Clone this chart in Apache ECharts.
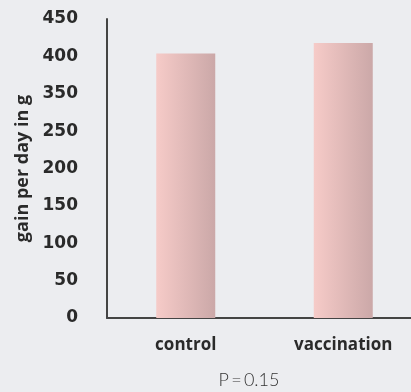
<!DOCTYPE html>
<html>
<head>
<meta charset="utf-8">
<script src="https://cdn.jsdelivr.net/npm/echarts@6/dist/echarts.min.js"></script>
<style>
  html, body { margin: 0; padding: 0; background: #ecedf0; }
  #chart { width: 411px; height: 392px; }
</style>
</head>
<body>
<div id="chart"></div>
<script>
// categories and values (gain per day, read against the printed tick labels)
var groups = ["control", "vaccination"];
var gainPerDay = [404, 418];
// the printed axis skips "300": nine evenly spaced labels
var tickLabels = ["0", "50", "100", "150", "200", "250", "350", "400", "450"];
var pValue = "P\u2009=\u20090.15";

// position on the axis: every label is one step of 50, so values above 250 sit one step lower
function toAxis(v) {
  return v > 250 ? v - 50 : v;
}

var myChart = echarts.init(document.getElementById("chart"));

var option = {
  backgroundColor: "#ecedf0",
  animation: false,
  grid: {
    left: 107,
    right: -11,
    top: 19,
    bottom: 74,
    outerBoundsMode: "none"
  },
  title: {
    text: pValue,
    left: 244,
    textAlign: "center",
    top: 366,
    textStyle: {
      fontFamily: "Lato",
      fontWeight: 300,
      fontSize: 18,
      color: "#333"
    }
  },
  xAxis: {
    type: "category",
    data: groups,
    axisLine: { lineStyle: { color: "#444", width: 2 } },
    axisTick: { show: false },
    axisLabel: {
      margin: 19,
      fontFamily: "Open Sans",
      fontWeight: "bold",
      fontSize: 17,
      color: "#2a2a2a"
    }
  },
  yAxis: {
    type: "value",
    min: 0,
    max: 400,
    interval: 50,
    name: "gain per day in g",
    nameLocation: "middle",
    nameGap: 74,
    nameTextStyle: {
      fontFamily: "Open Sans",
      fontWeight: "bold",
      fontSize: 18,
      color: "#2a2a2a"
    },
    axisLine: { show: true, lineStyle: { color: "#444", width: 2 } },
    axisTick: { show: false },
    splitLine: { show: false },
    axisLabel: {
      margin: 29,
      padding: [5, 0, 0, 0],
      fontFamily: "DejaVu Sans",
      fontWeight: "bold",
      fontSize: 17,
      color: "#2a2a2a",
      formatter: function (v) {
        return tickLabels[Math.round(v / 50)];
      }
    }
  },
  series: [
    {
      type: "bar",
      barWidth: 59,
      data: gainPerDay.map(toAxis),
      itemStyle: {
        color: new echarts.graphic.LinearGradient(0, 0, 1, 0, [
          { offset: 0, color: "#f6cbc8" },
          { offset: 1, color: "#cba8a8" }
        ])
      }
    }
  ]
};

myChart.setOption(option);
</script>
</body>
</html>
